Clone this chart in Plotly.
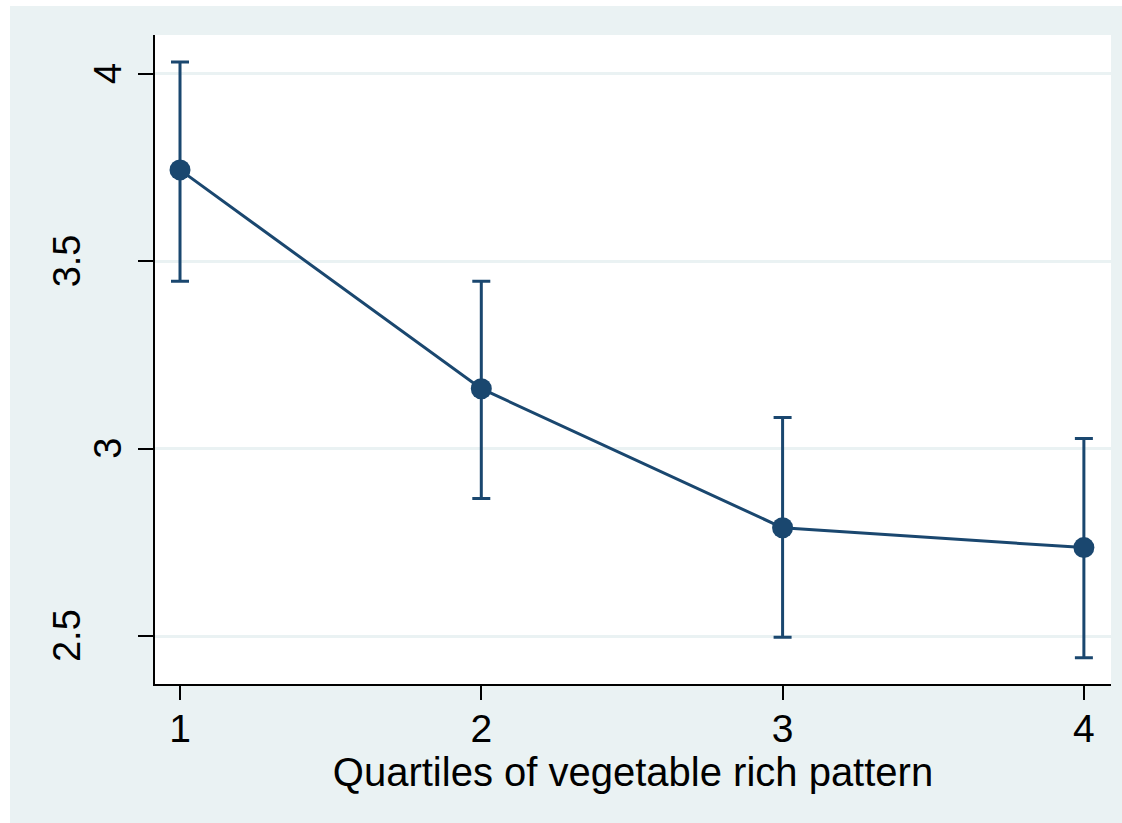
import plotly.graph_objects as go

quartiles = [1, 2, 3, 4]
means = [3.744, 3.160, 2.789, 2.736]
upper = [4.032, 3.447, 3.083, 3.027]
lower = [3.447, 2.867, 2.497, 2.442]
x_title = "Quartiles of vegetable rich pattern"
y_ticks = [2.5, 3, 3.5, 4]
y_ticklabels = ["2.5", "3", "3.5", "4"]

navy = "#1A476F"
bgblue = "#EAF2F3"

err_plus = [u - m for u, m in zip(upper, means)]
err_minus = [m - l for m, l in zip(means, lower)]

fig = go.Figure()
fig.add_trace(go.Scatter(
    x=quartiles, y=means, mode="lines+markers",
    line=dict(color=navy, width=3),
    marker=dict(color=navy, size=21),
    error_y=dict(type="data", symmetric=False, array=err_plus, arrayminus=err_minus,
                 color=navy, thickness=3, width=9),
    showlegend=False,
))

W, H = 1122, 823
L, R, T, B = 155, 11, 35, 139
pw, ph = W - L - R, H - T - B

def px_x(p):
    return (p - L) / pw

def px_y(p):
    return (H - B - p) / ph

# Stata-style rotated y tick labels: longer labels sit further left
annotations = []
for val, lab in zip(y_ticks, y_ticklabels):
    cx = 128.5 - 20.5 * len(lab)
    annotations.append(dict(
        x=px_x(cx), xref="paper", y=val, yref="y", text=lab, showarrow=False,
        textangle=-90, xanchor="center", yanchor="middle",
        font=dict(size=38, color="black"),
    ))

fig.update_layout(
    width=W, height=H,
    margin=dict(l=L, r=R, t=T, b=B, pad=0),
    paper_bgcolor=bgblue, plot_bgcolor="white",
    font=dict(family="Liberation Sans, Arial, sans-serif", color="black", size=38),
    xaxis=dict(
        range=[0.917, 4.09], tickvals=quartiles, ticktext=[str(q) for q in quartiles],
        showgrid=False, zeroline=False, showline=True, linecolor="black", linewidth=2,
        ticks="outside", ticklen=14, tickwidth=1.5, tickcolor="black",
        tickfont=dict(size=39), ticklabelstandoff=-5,
        title=dict(text=x_title, font=dict(size=40), standoff=0),
    ),
    yaxis=dict(
        range=[2.372, 4.104], tickvals=y_ticks, showticklabels=False,
        showgrid=True, gridcolor=bgblue, gridwidth=2.5, zeroline=False,
        showline=True, linecolor="black", linewidth=2,
        ticks="outside", ticklen=15, tickwidth=1.5, tickcolor="black",
    ),
    annotations=annotations,
    shapes=[
        dict(type="rect", xref="paper", yref="paper", x0=px_x(-5), x1=px_x(10),
             y0=px_y(H + 5), y1=px_y(-5), fillcolor="white", line=dict(width=0), layer="above"),
        dict(type="rect", xref="paper", yref="paper", x0=px_x(-5), x1=px_x(W + 5),
             y0=px_y(6), y1=px_y(-5), fillcolor="white", line=dict(width=0), layer="above"),
    ],
)

fig.write_html(
    "out.html",
    config={"displayModeBar": False},
    post_script="document.body.style.margin='0';document.body.style.overflow='hidden';",
)
